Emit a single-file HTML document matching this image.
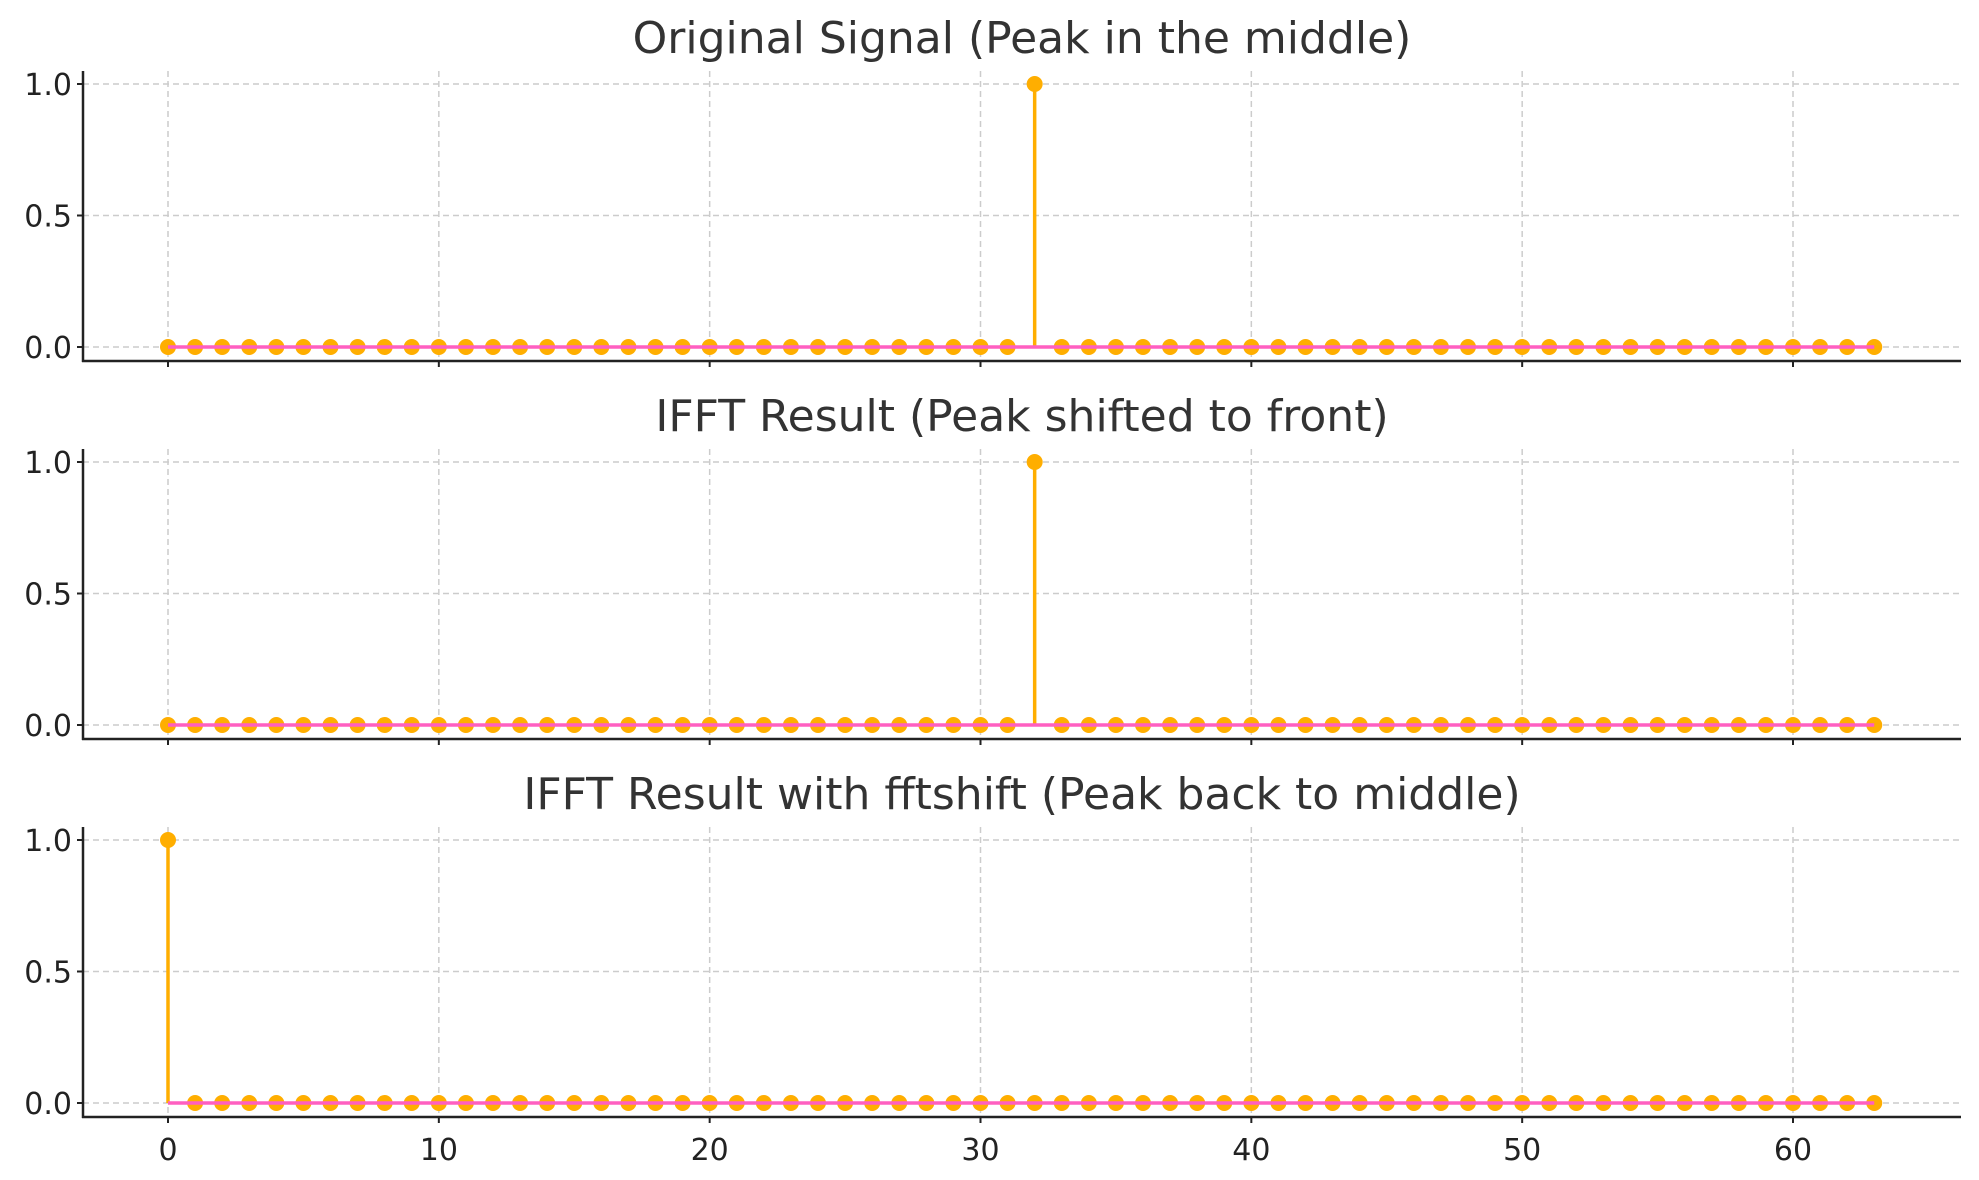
<!DOCTYPE html>
<html><head><meta charset="utf-8"><style>body{margin:0;background:#fff}svg{display:block}</style></head>
<body>
<svg id="chart" width="1979" height="1180" xmlns="http://www.w3.org/2000/svg" font-family="DejaVu Sans, Liberation Sans, sans-serif"></svg>
<script>
const titles = ["Original Signal (Peak in the middle)","IFFT Result (Peak shifted to front)","IFFT Result with fftshift (Peak back to middle)"];
const peakIndex = [32, 32, 0];
const peakValue = [1, 1, 1];
const xTicks = [0,10,20,30,40,50,60];
const yTicks = [0.0,0.5,1.0];
const yTickLabels = ["0.0","0.5","1.0"];
const N = 64;

const svg = document.getElementById('chart');
const NS = 'http://www.w3.org/2000/svg';
function mk(tag, attrs, parent){const e=document.createElementNS(NS,tag);for(const k in attrs)e.setAttribute(k,attrs[k]);(parent||svg).appendChild(e);return e;}
const L=83,R=1961;
const xs=v=>168+v*(1793-168)/60;
for(let p=0;p<3;p++){
  const off=p*378;
  const top=71+off,bot=361+off;
  const ys=v=>347+off-v*(347-84);
  const g=mk('g',{});
  
  
  const t=mk('text',{x:(L+R)/2,y:53+off,'text-anchor':'middle','font-size':44,fill:'#333'},g);
  t.textContent=titles[p];
  
  
  for(const v of xTicks){
    const l=mk('line',{x1:xs(v),x2:xs(v),y1:top,y2:bot,stroke:'#ccc','stroke-width':1.5,'stroke-dasharray':'6,4'},g);
    
    
    mk('line',{x1:xs(v),x2:xs(v),y1:bot,y2:bot+6,stroke:'#222','stroke-width':2},g);
    if(p===2){const tl=mk('text',{x:xs(v),y:bot+43,'text-anchor':'middle','font-size':30,fill:'#222'},g);tl.textContent=v;
      
      }
  }
  yTicks.forEach((v,i)=>{
    const l=mk('line',{x1:L,x2:R,y1:ys(v),y2:ys(v),stroke:'#ccc','stroke-width':1.5,'stroke-dasharray':'6,4'},g);
    
    
    mk('line',{x1:L-6,x2:L,y1:ys(v),y2:ys(v),stroke:'#222','stroke-width':2},g);
    const tl=mk('text',{x:L-11,y:ys(v)+11,'text-anchor':'end','font-size':30,fill:'#222'},g);tl.textContent=yTickLabels[i];
    
    
  });
  mk('line',{x1:L,x2:L,y1:top,y2:bot+1,stroke:'#222','stroke-width':2.5},g);
  mk('line',{x1:L-1,x2:R,y1:bot,y2:bot,stroke:'#222','stroke-width':2.5},g);
  for(let i=0;i<N;i++){
    const v=i===peakIndex[p]?peakValue[p]:0;
    if(v!==0){const s=mk('line',{x1:xs(i),x2:xs(i),y1:ys(0),y2:ys(v),stroke:'#ffae00','stroke-width':3.5},g);
      
      }
  }
  for(let i=0;i<N;i++){
    const v=i===peakIndex[p]?peakValue[p]:0;
    const c=mk('circle',{cx:xs(i),cy:ys(v),r:8,fill:'#ffae00'},g);
    
    
  }
  const b=mk('line',{x1:xs(0),x2:xs(N-1),y1:ys(0),y2:ys(0),stroke:'#ff5fc0','stroke-width':3.5},g);
  
  
}
</script>
</body></html>
